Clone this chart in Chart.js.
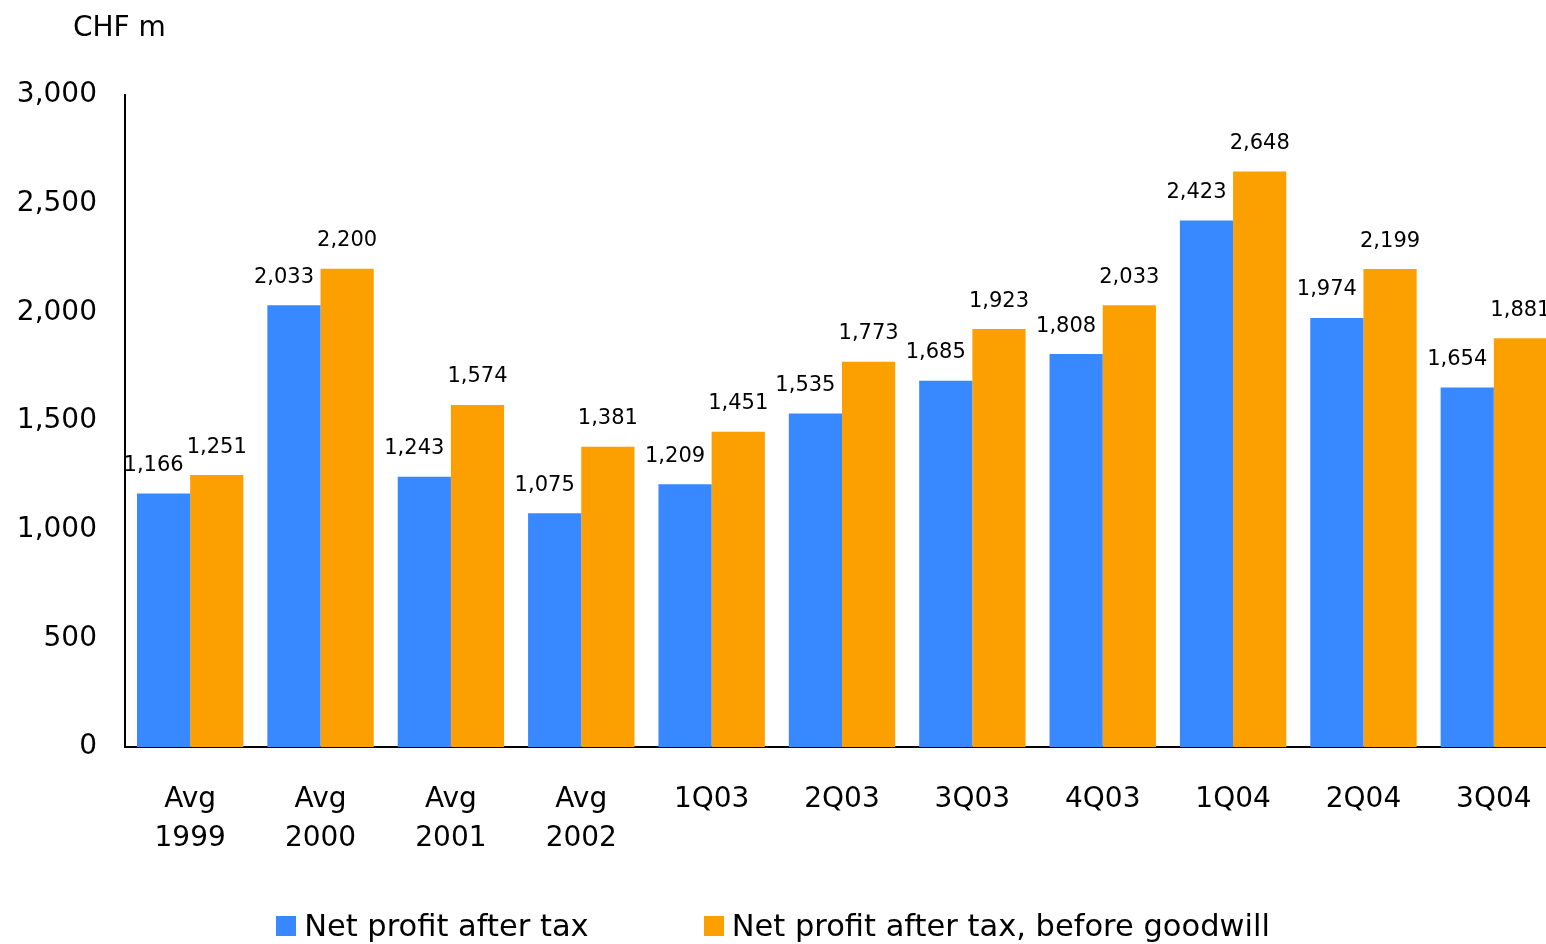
<!DOCTYPE html>
<html>
<head>
<meta charset="utf-8">
<script src="https://cdn.jsdelivr.net/npm/chart.js@4.4.1/dist/chart.umd.min.js"></script>
<style>
  html, body { margin:0; padding:0; background:#fff; overflow:hidden; }
  #wrap { position:relative; width:1546px; height:944px; overflow:hidden; }
  #chart { position:absolute; left:0; top:0; }
  #legend { position:absolute; left:0; top:908px; width:1546px; display:flex; justify-content:center; gap:115px;
            font-family:"DejaVu Sans", sans-serif; font-size:30.5px; color:#000; }
  .item { display:flex; align-items:center; }
  .box { width:20px; height:20px; margin-right:8px; }
</style>
</head>
<body>
<div id="wrap">
  <canvas id="chart" width="1559" height="944"></canvas>
  <div id="legend"></div>
</div>
<script>
// ── Data ──
const categories = [['Avg','1999'],['Avg','2000'],['Avg','2001'],['Avg','2002'],'1Q03','2Q03','3Q03','4Q03','1Q04','2Q04','3Q04'];
const netProfit       = [1166, 2033, 1243, 1075, 1209, 1535, 1685, 1808, 2423, 1974, 1654];
const netProfitBeforeGw = [1251, 2200, 1574, 1381, 1451, 1773, 1923, 2033, 2648, 2199, 1881];
const seriesNames = ['Net profit after tax', 'Net profit after tax, before goodwill'];
const yTicks = [0, 500, 1000, 1500, 2000, 2500, 3000];

const BLUE = '#3888FF', ORANGE = '#FBA000';
const FONT = '"DejaVu Sans", sans-serif';

// ── Value labels above bars ──
const valueLabels = {
    id: 'valueLabels',
    afterDatasetsDraw(chart) {
        const ctx = chart.ctx;
        ctx.save();
        ctx.font = '21px ' + FONT;
        ctx.fillStyle = '#000';
        ctx.textAlign = 'center';
        ctx.textBaseline = 'middle';
        chart.data.datasets.forEach((ds, di) => {
            const shift = di === 0 ? -10 : 0;
            chart.getDatasetMeta(di).data.forEach((bar, i) => {
                ctx.fillText(ds.data[i].toLocaleString('en-US'), bar.x + shift, bar.y - 28);
            });
        });
        // unit title
        ctx.font = '28px ' + FONT;
        ctx.textAlign = 'left';
        ctx.fillText('CHF m', chart.chartArea.left - 52, 29);
        ctx.restore();
    }
};

new Chart(document.getElementById('chart').getContext('2d'), {
    type: 'bar',
    data: {
        labels: categories,
        datasets: [
            { label: seriesNames[0], data: netProfit, backgroundColor: BLUE },
            { label: seriesNames[1], data: netProfitBeforeGw, backgroundColor: ORANGE }
        ]
    },
    options: {
        responsive: false, animation: false,
        layout: { padding: { top: 95, left: 0, right: 0, bottom: 0 } },
        datasets: { bar: { categoryPercentage: 0.816, barPercentage: 1.0 } },
        plugins: { legend: { display: false }, tooltip: { enabled: false } },
        scales: {
            x: {
                grid: { display: false, drawTicks: false },
                border: { display: true, color: '#000', width: 2 },
                ticks: { color: '#000', font: { family: FONT, size: 28, lineHeight: 1.4 }, padding: 33, maxRotation: 0, autoSkip: false },
                afterFit: (s) => { s.height = 197; s.paddingLeft = 0; s.paddingRight = 0; }
            },
            y: {
                min: 0, max: 3000,
                grid: { display: false, drawTicks: false },
                border: { display: true, color: '#000', width: 2 },
                afterBuildTicks: (s) => { s.ticks = yTicks.map(v => ({ value: v })); },
                ticks: { color: '#000', font: { family: FONT, size: 28 }, padding: 28,
                         callback: (v) => v.toLocaleString('en-US') },
                afterFit: (s) => { s.width = 125; }
            }
        }
    },
    plugins: [valueLabels]
});

// ── Legend ──
const legend = document.getElementById('legend');
[BLUE, ORANGE].forEach((c, i) => {
    const item = document.createElement('div'); item.className = 'item';
    item.innerHTML = `<div class="box" style="background:${c}"></div><span>${seriesNames[i]}</span>`;
    legend.appendChild(item);
});
</script>
</body>
</html>
